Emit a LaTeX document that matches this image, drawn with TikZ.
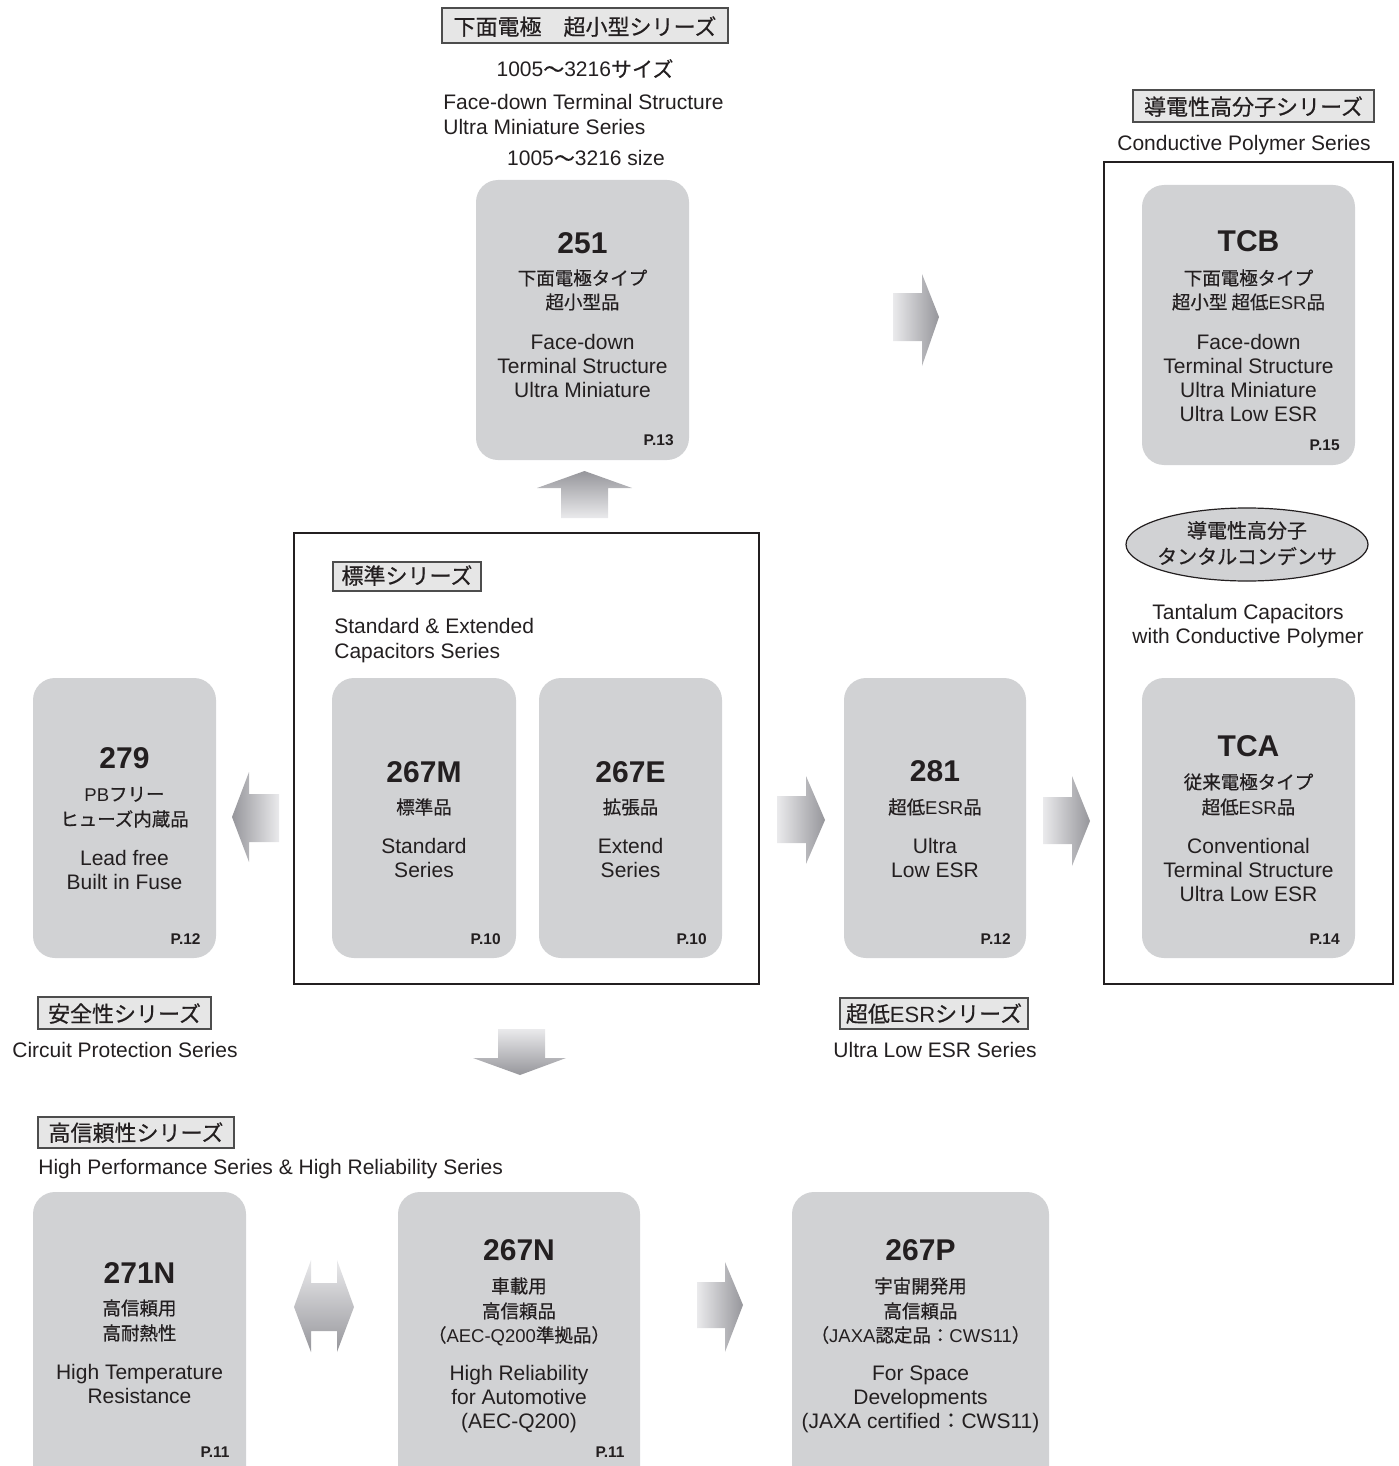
\documentclass[tikz,border=0pt]{standalone}
\usepackage{fontspec}
\setmainfont{Liberation Sans}
\newfontfamily\jpf{Noto Sans CJK JP}[FakeBold=0.5]
\usetikzlibrary{shapes.geometric,fit}
\definecolor{boxfill}{HTML}{D1D2D4}
\definecolor{labfill}{HTML}{E6E6E6}
\definecolor{labline}{HTML}{4D4D4D}
\definecolor{txt}{HTML}{231F20}
\definecolor{arrdark}{HTML}{96969B}
\definecolor{arrlight}{HTML}{EAEAEC}
\newcommand\lat[1]{{\rmfamily #1}}
\tikzset{
 sbox/.style={fill=boxfill, rounded corners=11pt, inner sep=0pt, outer sep=0pt},
 lbox/.style={draw=labline, fill=labfill, line width=0.6pt, inner sep=0pt},
 ltext/.style={font=\fontsize{11}{13}\jpf, anchor=base, inner sep=0pt, text=txt},
 frame/.style={draw=txt, line width=0.7pt, inner sep=0pt},
 en/.style={font=\fontsize{10.5}{12}\selectfont, anchor=base, inner sep=0pt, text=txt},
 enw/.style={en, anchor=base west},
 jn/.style={font=\fontsize{9.25}{12}\jpf, anchor=base, inner sep=0pt, text=txt},
 jl/.style={font=\fontsize{10}{12}\jpf, anchor=base, inner sep=0pt, text=txt},
 num/.style={font=\fontsize{15}{17}\selectfont\bfseries, anchor=base, inner sep=0pt, text=txt},
 pg/.style={font=\fontsize{7.75}{9}\selectfont\bfseries, anchor=base east, inner sep=0pt, text=txt},
}
\begin{document}
\begin{tikzpicture}[x=0.5pt,y=-0.5pt]
\useasboundingbox (0,0) rectangle (1398,1466);

% ---------- frames ----------
\node[frame, fit={(294,533) (759,984)}] (stdframe) {};
\node[frame, fit={(1104,162) (1393,984)}] (cpframe) {};

% ---------- top group ----------
\node[lbox, fit={(442,8) (728,43)}] (labTop) {};
\node[ltext] (labTopT) at (585,35) {下面電極　超小型シリーズ};
\node[en] (top1) at (585,77) {1005{\jpf 〜}3216{\jpf サイズ}};
\node[enw] (top2) at (443,110) {Face-down Terminal Structure};
\node[enw] (top3) at (443,135) {Ultra Miniature Series};
\node[en] (top4) at (586,166) {1005{\jpf 〜}3216 size};

\node[sbox, fit={(476,180) (689,460)}] (b251) {};
\node[num] (n251) at (582.5,254) {251};
\node[jn] (j251a) at (582.5,285) {下面電極タイプ};
\node[jn] (j251b) at (582.5,309) {超小型品};
\node[en] (e251a) at (582.5,349) {Face-down};
\node[en] (e251b) at (582.5,373) {Terminal Structure};
\node[en] (e251c) at (582.5,397) {Ultra Miniature};
\node[pg] (p251) at (674,445) {P.13};

% ---------- standard group ----------
\node[lbox, fit={(333,562) (481,591)}] (labStd) {};
\node[ltext] (labStdT) at (407,584) {標準シリーズ};
\node[enw] (std1) at (334,633) {Standard \& Extended};
\node[enw] (std2) at (334,658) {Capacitors Series};

\node[sbox, fit={(332,678) (516,958)}] (b267M) {};
\node[num] (n267M) at (424,782) {267M};
\node[jn] (j267M) at (424,814) {標準品};
\node[en] (e267Ma) at (424,853) {Standard};
\node[en] (e267Mb) at (424,877) {Series};
\node[pg] (p267M) at (501,944) {P.10};

\node[sbox, fit={(539,678) (722,958)}] (b267E) {};
\node[num] (n267E) at (630.5,782) {267E};
\node[jn] (j267E) at (630.5,814) {拡張品};
\node[en] (e267Ea) at (630.5,853) {Extend};
\node[en] (e267Eb) at (630.5,877) {Series};
\node[pg] (p267E) at (707,944) {P.10};

% ---------- circuit protection ----------
\node[sbox, fit={(33,678) (216,958)}] (b279) {};
\node[num] (n279) at (124.5,768) {279};
\node[jn] (j279a) at (124.5,801) {\lat{PB}フリー};
\node[jn] (j279b) at (124.5,826) {ヒューズ内蔵品};
\node[en] (e279a) at (124.5,865) {Lead free};
\node[en] (e279b) at (124.5,889) {Built in Fuse};
\node[pg] (p279) at (201,944) {P.12};
\node[lbox, fit={(38,997) (211,1029)}] (labCP) {};
\node[ltext] (labCPT) at (124.5,1022) {安全性シリーズ};
\node[en] (cp1) at (125,1057) {Circuit Protection Series};

% ---------- ultra low ESR ----------
\node[sbox, fit={(844,678) (1026,958)}] (b281) {};
\node[num] (n281) at (935,781) {281};
\node[jn] (j281) at (935,814) {超低\lat{ESR}品};
\node[en] (e281a) at (935,853) {Ultra};
\node[en] (e281b) at (935,877) {Low ESR};
\node[pg] (p281) at (1011,944) {P.12};
\node[lbox, fit={(840,998) (1028,1029)}] (labESR) {};
\node[ltext] (labESRT) at (934,1022) {超低\lat{ESR}シリーズ};
\node[en] (esr1) at (935,1057) {Ultra Low ESR Series};

% ---------- conductive polymer ----------
\node[lbox, fit={(1133,90) (1374,122)}] (labCPo) {};
\node[ltext] (labCPoT) at (1253.5,115) {導電性高分子シリーズ};
\node[en] (cpo1) at (1244,151) {Conductive Polymer Series};

\node[sbox, fit={(1142,185) (1355,465)}] (bTCB) {};
\node[num] (nTCB) at (1248.5,252) {TCB};
\node[jn] (jTCBa) at (1248.5,285) {下面電極タイプ};
\node[jn] (jTCBb) at (1248.5,309) {超小型 超低\lat{ESR}品};
\node[en] (eTCBa) at (1248.5,349) {Face-down};
\node[en] (eTCBb) at (1248.5,373) {Terminal Structure};
\node[en] (eTCBc) at (1248.5,397) {Ultra Miniature};
\node[en] (eTCBd) at (1248.5,421) {Ultra Low ESR};
\node[pg] (pTCB) at (1340,450) {P.15};

\node[ellipse, draw=txt, fill=boxfill, line width=0.6pt, minimum width=121pt, minimum height=36.5pt, inner sep=0pt] (ell) at (1247,544.5) {};
\node[jl] (ellA) at (1247,538) {導電性高分子};
\node[jl] (ellB) at (1247,564) {タンタルコンデンサ};
\node[en] (tc1) at (1248,619) {Tantalum Capacitors};
\node[en] (tc2) at (1248,643) {with Conductive Polymer};

\node[sbox, fit={(1142,678) (1355,958)}] (bTCA) {};
\node[num] (nTCA) at (1248.5,756) {TCA};
\node[jn] (jTCAa) at (1248.5,789) {従来電極タイプ};
\node[jn] (jTCAb) at (1248.5,814) {超低\lat{ESR}品};
\node[en] (eTCAa) at (1248.5,853) {Conventional};
\node[en] (eTCAb) at (1248.5,877) {Terminal Structure};
\node[en] (eTCAc) at (1248.5,901) {Ultra Low ESR};
\node[pg] (pTCA) at (1340,944) {P.14};

% ---------- high reliability ----------
\node[lbox, fit={(38,1117) (234,1148)}] (labHR) {};
\node[ltext] (labHRT) at (136,1141) {高信頼性シリーズ};
\node[enw] (hr1) at (38,1174) {High Performance Series \& High Reliability Series};

\node[sbox, fit={(33,1192) (246,1490)}] (b271N) {};
\node[num] (n271N) at (139.5,1283) {271N};
\node[jn] (j271Na) at (139.5,1315) {高信頼用};
\node[jn] (j271Nb) at (139.5,1340) {高耐熱性};
\node[en] (e271Na) at (139.5,1379) {High Temperature};
\node[en] (e271Nb) at (139.5,1403) {Resistance};
\node[pg] (p271N) at (230,1457) {P.11};

\node[sbox, fit={(398,1192) (640,1490)}] (b267N) {};
\node[num] (n267N) at (519,1260) {267N};
\node[jn] (j267Na) at (519,1293) {車載用};
\node[jn] (j267Nb) at (519,1318) {高信頼品};
\node[jn] (j267Nc) at (519,1342) {（\lat{AEC-Q200}準拠品）};
\node[en] (e267Na) at (519,1380) {High Reliability};
\node[en] (e267Nb) at (519,1404) {for Automotive};
\node[en] (e267Nc) at (519,1428) {(AEC-Q200)};
\node[pg] (p267N) at (625,1457) {P.11};

\node[sbox, fit={(792,1192) (1049,1490)}] (b267P) {};
\node[num] (n267P) at (920.5,1260) {267P};
\node[jn] (j267Pa) at (920.5,1293) {宇宙開発用};
\node[jn] (j267Pb) at (920.5,1318) {高信頼品};
\node[jn] (j267Pc) at (920.5,1342) {（\lat{JAXA}認定品：\lat{CWS11}）};
\node[en] (e267Pa) at (920.5,1380) {For Space};
\node[en] (e267Pb) at (920.5,1404) {Developments};
\node[en] (e267Pc) at (920.5,1428) {(JAXA certified{\jpf ：}CWS11)};

% ---------- block arrows ----------
% up (standard -> 251)
\shade[top color=arrdark, bottom color=arrlight]
  (584.5,471) -- (632,488) -- (608,488) -- (608,518) -- (561,518) -- (561,488) -- (537,488) -- cycle;
% right (251 -> TCB)
\shade[left color=arrlight, right color=arrdark]
  (893,293) -- (922,293) -- (922,274) -- (939,317) -- (922,366) -- (922,341) -- (893,341) -- cycle;
% left (standard -> 279)
\shade[left color=arrdark, right color=arrlight]
  (232,817) -- (249,772) -- (249,794) -- (279,794) -- (279,842) -- (249,842) -- (249,862) -- cycle;
% right (standard -> 281)
\shade[left color=arrlight, right color=arrdark]
  (777,796) -- (806,796) -- (806,776) -- (825,820) -- (806,864) -- (806,843) -- (777,843) -- cycle;
% right (281 -> TCA)
\shade[left color=arrlight, right color=arrdark]
  (1043,797) -- (1072,797) -- (1072,776) -- (1090,821) -- (1072,866) -- (1072,844) -- (1043,844) -- cycle;
% down (standard -> high reliability)
\shade[top color=arrlight, bottom color=arrdark]
  (498,1029) -- (545,1029) -- (545,1058) -- (566,1058) -- (520,1075) -- (473,1058) -- (498,1058) -- cycle;
% double (271N <-> 267N)
\shade[top color=arrlight, bottom color=arrdark]
  (294,1307) -- (311,1260) -- (311,1283) -- (337,1283) -- (337,1260) -- (354,1307)
  -- (337,1352) -- (337,1331) -- (311,1331) -- (311,1352) -- cycle;
% right (267N -> 267P)
\shade[left color=arrlight, right color=arrdark]
  (697,1282) -- (725,1282) -- (725,1262) -- (743,1305) -- (725,1352) -- (725,1328) -- (697,1328) -- cycle;
\end{tikzpicture}
\end{document}
